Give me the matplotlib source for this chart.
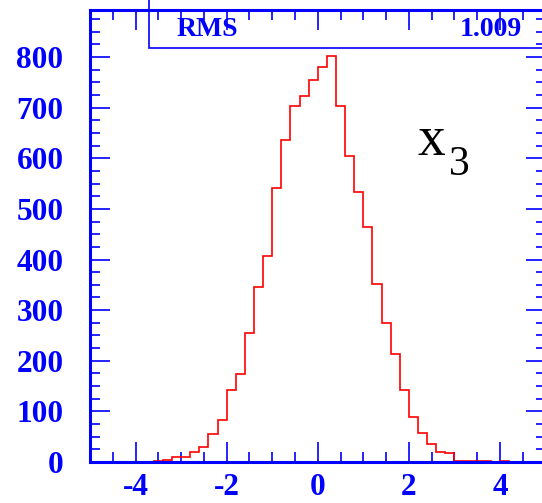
import numpy as np
import matplotlib
matplotlib.use("Agg")
import matplotlib.pyplot as plt
from matplotlib.patches import Rectangle
from matplotlib.ticker import MultipleLocator

# histogram of x3: 50 bins of width 0.2 between -5 and 5
bin_lo, bin_hi, n_bins = -5.0, 5.0, 50
counts = [0, 0, 0, 0, 0, 0, 0,
          1, 4, 9, 10, 20, 30, 55, 83, 143, 174,
          254, 345, 407, 542, 636, 703, 724, 755,
          781, 803, 703, 604, 533, 465, 351, 274,
          213, 142, 89, 58, 36, 19, 18,
          2, 1, 1, 1, 0, 1,
          0, 0, 0, 0]
rms_value = "1.009"
var_sym, var_idx = "x", "3"

BLUE = "#0000ff"
plt.rcParams["axes.unicode_minus"] = False

fig = plt.figure(figsize=(5.42, 5.03), dpi=100)
ax = fig.add_axes([90 / 542, 41 / 503, 455.5 / 542, 452 / 503])

edges = np.linspace(bin_lo, bin_hi, n_bins + 1)
ax.stairs(counts, edges, color="red", lw=1.2, zorder=2)

ax.set_xlim(bin_lo, bin_hi)
ax.set_ylim(0, 893)

for s in ax.spines.values():
    s.set_color(BLUE)
    s.set_linewidth(2.2)

ax.xaxis.set_major_locator(MultipleLocator(2))
ax.xaxis.set_minor_locator(MultipleLocator(0.5))
ax.yaxis.set_major_locator(MultipleLocator(100))
ax.yaxis.set_minor_locator(MultipleLocator(25))

ax.tick_params(which="both", direction="in", top=True, right=True,
               color=BLUE, width=1.2, labelcolor=BLUE)
ax.tick_params(which="major", length=14.4)
ax.tick_params(which="minor", length=7.2)
ax.tick_params(axis="x", which="major", pad=8)
ax.tick_params(axis="y", which="major", pad=19)

for lab in ax.get_xticklabels() + ax.get_yticklabels():
    lab.set_family("Liberation Serif")
    lab.set_fontweight("bold")
    lab.set_fontsize(22.5)

# stats box in the top corner
box = Rectangle((0.1295, 0.916), 0.95, 0.2, transform=ax.transAxes,
                facecolor="white", edgecolor=BLUE, lw=1.2,
                clip_on=False, zorder=1)
ax.add_patch(box)
ax.text(0.189, 0.957, "RMS", transform=ax.transAxes, color=BLUE,
        family="Liberation Serif", fontweight="bold", fontsize=20,
        ha="left", va="center")
ax.text(0.948, 0.957, rms_value, transform=ax.transAxes, color=BLUE,
        family="Liberation Serif", fontweight="bold", fontsize=20,
        ha="right", va="center")

# variable name, with the index set as a subscript
ax.text(2.18, 606, var_sym, fontsize=40, color="black",
        family="Liberation Serif", ha="left", va="baseline")
ax.text(2.88, 567, var_idx, fontsize=30, color="black",
        family="Liberation Serif", ha="left", va="baseline")

fig.savefig("out.png", dpi=100)
